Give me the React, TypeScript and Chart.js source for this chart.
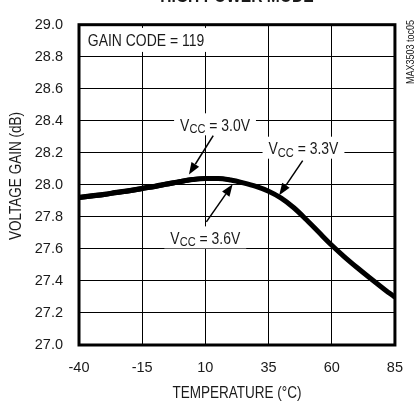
import React, { useEffect, useRef } from "react";
import { Chart, registerables } from "chart.js";

Chart.register(...registerables);

// ---- data ----
const temperatures = [-40, -35, -30, -25, -20, -15, -10, -5, 0, 5, 10, 15, 20, 25, 30, 35, 40, 45, 50, 55, 60, 65, 70, 75, 80, 85];
const gainVcc33 = [27.92, 27.93, 27.94, 27.952, 27.963, 27.977, 27.99, 28.005, 28.02, 28.033, 28.04, 28.04, 28.03, 28.012, 27.99, 27.96, 27.917, 27.857, 27.782, 27.702, 27.623, 27.551, 27.484, 27.42, 27.358, 27.298];
const gainVcc30 = [27.928, 27.938, 27.948, 27.96, 27.971, 27.985, 27.998, 28.013, 28.027, 28.039, 28.045, 28.044, 28.033, 28.014, 27.991, 27.96, 27.917, 27.857, 27.782, 27.702, 27.623, 27.551, 27.484, 27.42, 27.358, 27.298];
const gainVcc36 = [27.914, 27.924, 27.934, 27.946, 27.957, 27.971, 27.984, 27.999, 28.014, 28.028, 28.036, 28.037, 28.028, 28.01, 27.989, 27.96, 27.917, 27.857, 27.782, 27.702, 27.623, 27.551, 27.484, 27.42, 27.358, 27.298];
const xTickValues = [-40, -15, 10, 35, 60, 85];
const yTickMin = 27.0;
const yTickMax = 29.0;
const yTickStep = 0.2;

const chartTitle = "HIGH POWER MODE";
const xAxisTitle = "TEMPERATURE (°C)";
const yAxisTitle = "VOLTAGE GAIN (dB)";
const gainCodeLabel = "GAIN CODE = 119";
const sideNote = "MAX3503 toc05";

// annotation anchors in data units (temperature, gain)
const vccLabels = [
  { value: "3.0V", left: 0.0, mid: 28.378, tail: [13.1, 28.308], tip: [3.5, 28.065] },
  { value: "3.3V", left: 35.0, mid: 28.232, tail: [48.5, 28.151], tip: [39.2, 27.935] },
  { value: "3.6V", left: -3.85, mid: 27.672, tail: [10.4, 27.769], tip: [20.8, 28.003] },
];
const gainCodeAnchor = [-36.5, 28.905];

const FONT = "'Liberation Sans', Arial, sans-serif";
const SQUEEZE = 0.82;
const INK = "#1a1a1a";

function toPoints(ys: number[]) {
  return temperatures.map((t, i) => ({ x: t, y: ys[i] }));
}

function fontStr(size: number, bold = false) {
  return `${bold ? "bold " : ""}${size}px ${FONT}`;
}

function textW(ctx: CanvasRenderingContext2D, s: string, size: number, bold = false) {
  ctx.font = fontStr(size, bold);
  return ctx.measureText(s).width * SQUEEZE;
}

function drawText(ctx: CanvasRenderingContext2D, s: string, x: number, y: number, size: number, align: CanvasTextAlign, baseline: CanvasTextBaseline, rot = 0, bold = false) {
  ctx.save();
  ctx.translate(x, y);
  if (rot) ctx.rotate(rot);
  ctx.scale(SQUEEZE, 1);
  ctx.font = fontStr(size, bold);
  ctx.textAlign = align;
  ctx.textBaseline = baseline;
  ctx.fillText(s, 0, 0);
  ctx.restore();
}

const overlayPlugin = {
  id: "overlay",
  beforeDatasetsDraw(chart: any) {
    const { ctx, scales } = chart;
    const xs = scales.x;
    const ys = scales.y;
    ctx.save();

    // gain code label
    {
      const x = xs.getPixelForValue(gainCodeAnchor[0]);
      const y = ys.getPixelForValue(gainCodeAnchor[1]);
      const w = textW(ctx, gainCodeLabel, 17);
      ctx.fillStyle = "#fff";
      ctx.fillRect(x - 5, y - 12, w + 10, 24);
      ctx.fillStyle = INK;
      drawText(ctx, gainCodeLabel, x, y + 6.5, 17, "left", "alphabetic");
    }

    // VCC labels
    for (const lab of vccLabels) {
      const x = xs.getPixelForValue(lab.left);
      const y = ys.getPixelForValue(lab.mid);
      const rest = " = " + lab.value;
      const wV = textW(ctx, "V", 17);
      const wCC = textW(ctx, "CC", 13.5);
      const wR = textW(ctx, rest, 17);
      const total = wV + wCC + wR;
      ctx.fillStyle = "#fff";
      ctx.fillRect(x - 6, y - 11, total + 12, 22);
      ctx.fillStyle = INK;
      const base = y + 6.5;
      drawText(ctx, "V", x, base, 17, "left", "alphabetic");
      drawText(ctx, "CC", x + wV, base + 2.5, 13.5, "left", "alphabetic");
      drawText(ctx, rest, x + wV + wCC, base, 17, "left", "alphabetic");
    }
    ctx.restore();
  },
  afterDatasetsDraw(chart: any) {
    const { ctx, scales, chartArea } = chart;
    const xs = scales.x;
    const ys = scales.y;
    ctx.save();

    // arrows
    for (const lab of vccLabels) {
      const x1 = xs.getPixelForValue(lab.tail[0]);
      const y1 = ys.getPixelForValue(lab.tail[1]);
      const x2 = xs.getPixelForValue(lab.tip[0]);
      const y2 = ys.getPixelForValue(lab.tip[1]);
      const ang = Math.atan2(y2 - y1, x2 - x1);
      const headLen = 12;
      const headHalf = 4.5;
      const bx = x2 - headLen * Math.cos(ang);
      const by = y2 - headLen * Math.sin(ang);
      ctx.strokeStyle = "#000";
      ctx.lineWidth = 1.5;
      ctx.beginPath();
      ctx.moveTo(x1, y1);
      ctx.lineTo(bx, by);
      ctx.stroke();
      ctx.fillStyle = "#000";
      ctx.beginPath();
      ctx.moveTo(x2, y2);
      ctx.lineTo(bx + headHalf * Math.sin(ang), by - headHalf * Math.cos(ang));
      ctx.lineTo(bx - headHalf * Math.sin(ang), by + headHalf * Math.cos(ang));
      ctx.closePath();
      ctx.fill();
    }

    // frame
    ctx.strokeStyle = "#000";
    ctx.lineWidth = 3;
    ctx.strokeRect(chartArea.left, chartArea.top, chartArea.right - chartArea.left, chartArea.bottom - chartArea.top);

    // axis titles
    ctx.fillStyle = INK;
    const cx = (chartArea.left + chartArea.right) / 2;
    drawText(ctx, xAxisTitle, cx, 393, 16.5, "center", "middle");
    drawText(ctx, yAxisTitle, 16, 176, 16.5, "center", "middle", -Math.PI / 2);

    // cut-off title
    drawText(ctx, chartTitle, cx, 1.5, 19, "center", "alphabetic", 0, true);

    // side note
    drawText(ctx, sideNote, 411, 52, 11, "center", "middle", -Math.PI / 2);

    ctx.restore();
  },
};

export default function App() {
  const ref = useRef<HTMLCanvasElement | null>(null);
  useEffect(() => {
    if (!ref.current) return;
    Chart.defaults.font.family = FONT;
    const chart = new Chart(ref.current, {
      type: "line",
      data: {
        datasets: [
          { label: "VCC = 3.0V", data: toPoints(gainVcc30), borderColor: "#000", borderWidth: 3, pointRadius: 0, cubicInterpolationMode: "monotone", fill: false },
          { label: "VCC = 3.6V", data: toPoints(gainVcc36), borderColor: "#000", borderWidth: 3, pointRadius: 0, cubicInterpolationMode: "monotone", fill: false },
          { label: "VCC = 3.3V", data: toPoints(gainVcc33), borderColor: "#000", borderWidth: 5, pointRadius: 0, cubicInterpolationMode: "monotone", fill: false },
        ],
      },
      options: {
        animation: false,
        responsive: false,
        devicePixelRatio: 1,
        layout: { padding: { top: 20, right: 13, left: 0, bottom: 0 } },
        plugins: { legend: { display: false }, title: { display: false }, tooltip: { enabled: false } },
        scales: {
          x: {
            type: "linear",
            min: xTickValues[0],
            max: xTickValues[xTickValues.length - 1],
            afterBuildTicks: (scale: any) => {
              scale.ticks = xTickValues.map((v) => ({ value: v }));
            },
            afterFit: (scale: any) => {
              scale.height = 57;
            },
            ticks: {
              color: INK,
              font: { size: 14.5, family: FONT },
              padding: 14,
              maxRotation: 0,
              callback: (v: any) => String(v),
            },
            grid: { color: "#000", lineWidth: 1, drawTicks: false },
            border: { display: false },
          },
          y: {
            type: "linear",
            min: yTickMin,
            max: yTickMax,
            afterFit: (scale: any) => {
              scale.width = 79;
            },
            ticks: {
              stepSize: yTickStep,
              color: INK,
              font: { size: 14.5, family: FONT },
              padding: 16,
              callback: (v: any) => Number(v).toFixed(1),
            },
            grid: { color: "#000", lineWidth: 1, drawTicks: false },
            border: { display: false },
          },
        },
      },
      plugins: [overlayPlugin],
    } as any);
    return () => chart.destroy();
  }, []);
  return (
    <div style={{ position: "absolute", left: 0, top: 0, width: 417, height: 402, background: "#fff" }}>
      <canvas ref={ref} width={417} height={402} style={{ display: "block", width: 417, height: 402 }} />
    </div>
  );
}
